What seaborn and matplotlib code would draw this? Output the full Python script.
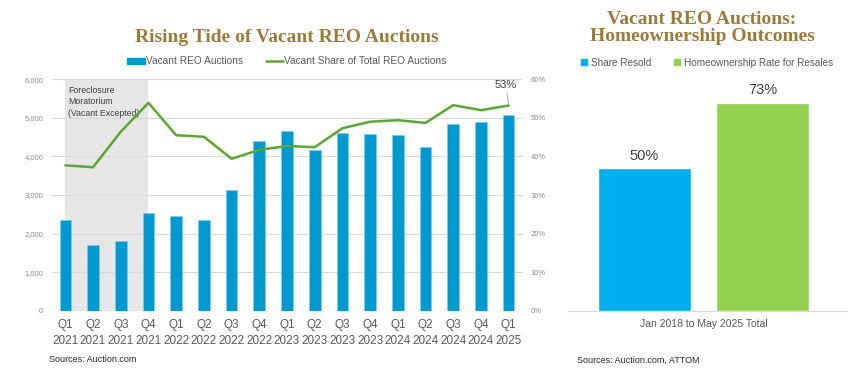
import numpy as np
import pandas as pd
import matplotlib
matplotlib.use("Agg")
import matplotlib.pyplot as plt
from matplotlib.patches import Patch
from matplotlib.lines import Line2D
import seaborn as sns

quarters = ["Q1\n2021", "Q2\n2021", "Q3\n2021", "Q4\n2021",
            "Q1\n2022", "Q2\n2022", "Q3\n2022", "Q4\n2022",
            "Q1\n2023", "Q2\n2023", "Q3\n2023", "Q4\n2023",
            "Q1\n2024", "Q2\n2024", "Q3\n2024", "Q4\n2024", "Q1\n2025"]
vacant_auctions = [2350, 1700, 1820, 2530, 2460, 2360, 3130, 4390,
                   4660, 4160, 4610, 4580, 4565, 4245, 4840, 4885, 5065]
vacant_share = [37.7, 37.2, 46.4, 53.9, 45.5, 45.1, 39.4, 41.7,
                42.7, 42.4, 47.3, 49.0, 49.4, 48.7, 53.3, 52.0, 53.2]
left_yticks = [0, 1000, 2000, 3000, 4000, 5000, 6000]
right_yticks = [0, 10, 20, 30, 40, 50, 60]

outcome_period = ["Jan 2018 to May 2025 Total"] * 2
outcome_metric = ["Share Resold", "Homeownership Rate for Resales"]
outcome_value = [50, 73]

BLUE = "#0099d0"
LINE_GREEN = "#5aa832"
SKY = "#00aeef"
LIME = "#92d050"
GOLD = "#9c7a3c"
GRID = "#d9d9d9"
TXT = "#595959"

sns.set_theme(style="white")
plt.rcParams["font.family"] = ["Liberation Sans", "DejaVu Sans"]

fig = plt.figure(figsize=(8.48, 3.82), dpi=100)

# ---- left chart: bars + share line
ax1 = fig.add_axes([51.5 / 848, 1 - 310.7 / 382, 471 / 848, 231.4 / 382])
df = pd.DataFrame({"quarter": quarters, "auctions": vacant_auctions,
                   "share": vacant_share, "pos": np.arange(len(quarters))})

ax1.axvspan(0, 3, color="#e6e6e6", zorder=0, lw=0)
sns.barplot(data=df, x="quarter", y="auctions", color=BLUE, width=0.42,
            saturation=1, edgecolor="#7fcbe8", linewidth=0.5, ax=ax1, zorder=2)
ax1.set_xlim(-0.5, 16.5)
ax1.set_ylim(0, 6000)
ax1.set_yticks(left_yticks)
ax1.set_yticklabels([f"{v:,}" for v in left_yticks])
ax1.yaxis.grid(True, color=GRID, lw=0.8)
ax1.set_axisbelow(True)
ax1.tick_params(axis="y", labelsize=5.5, labelcolor="#8c8c8c", length=0, pad=6)
ax1.tick_params(axis="x", labelsize=8.5, labelcolor=TXT, length=0, pad=6)
for lab in ax1.get_xticklabels():
    lab.set_linespacing(1.4)
ax1.set_xlabel("")
ax1.set_ylabel("")
for s in ax1.spines.values():
    s.set_visible(False)

ax1.text(0.1, 5830, "Foreclosure\nMoratorium\n(Vacant Excepted)", fontsize=6.3,
         color="#404040", va="top", ha="left", linespacing=1.35, zorder=3)

ax2 = ax1.twinx()
sns.lineplot(data=df, x="pos", y="share", color=LINE_GREEN, lw=1.8, ax=ax2, zorder=4)
ax2.set_ylim(0, 60)
ax2.set_yticks(right_yticks)
ax2.set_yticklabels([f"{v}%" for v in right_yticks])
ax2.tick_params(axis="y", labelsize=5.5, labelcolor="#8c8c8c", length=0, pad=6)
ax2.set_xlabel("")
ax2.set_ylabel("")
ax2.grid(False)
for s in ax2.spines.values():
    s.set_visible(False)
last = len(quarters) - 1
ax2.annotate(f"{vacant_share[last]:.0f}%", xy=(last, vacant_share[last]),
             xytext=(-2, 11), textcoords="offset points", ha="center", va="bottom",
             fontsize=8, color="#404040",
             arrowprops=dict(arrowstyle="-", color="#808080", lw=0.5, shrinkA=0, shrinkB=1))

fig.text(287 / 848, 1 - 37 / 382, "Rising Tide of Vacant REO Auctions",
         family="Liberation Serif", fontweight="bold", fontsize=14, color=GOLD,
         ha="center", va="center")
fig.legend(handles=[Patch(color=BLUE, label="Vacant REO Auctions"),
                    Line2D([0], [0], color=LINE_GREEN, lw=1.8,
                           label="Vacant Share of Total REO Auctions")],
           loc="center", bbox_to_anchor=(287 / 848, 1 - 61.5 / 382), ncol=2,
           frameon=False, fontsize=7.3, labelcolor=TXT, handlelength=1.7,
           handleheight=0.6, handletextpad=0.1, columnspacing=2.3)
fig.text(49 / 848, 1 - 360 / 382, "Sources: Auction.com", fontsize=6.5,
         color="#262626", ha="left", va="center")

# ---- right chart: homeownership outcomes
ax3 = fig.add_axes([568 / 848, 1 - 310.7 / 382, 280 / 848, 230.7 / 382])
out = pd.DataFrame({"period": outcome_period, "metric": outcome_metric,
                    "value": outcome_value})
sns.barplot(data=out, x="period", y="value", hue="metric",
            palette=[SKY, LIME], saturation=1, gap=0.215, legend=False, ax=ax3)
for c in ax3.containers:
    ax3.bar_label(c, fmt="%.0f%%", fontsize=10.5, color="#404040", padding=4)
ax3.set_xlim(-0.458, 0.488)
ax3.set_ylim(0, 81)
ax3.set_yticks([])
ax3.set_xlabel("")
ax3.set_ylabel("")
ax3.tick_params(axis="x", labelsize=7.5, labelcolor=TXT, length=0, pad=6)
for k, s in ax3.spines.items():
    s.set_visible(k == "bottom")
ax3.spines["bottom"].set_color(GRID)
ax3.spines["bottom"].set_linewidth(0.8)

fig.text(702 / 848, 1 - 28 / 382, "Vacant REO Auctions:\nHomeownership Outcomes",
         family="Liberation Serif", fontweight="bold", fontsize=14, color=GOLD,
         ha="center", va="center", linespacing=1.05)
fig.legend(handles=[Patch(color=SKY, label=outcome_metric[0]),
                    Patch(color=LIME, label=outcome_metric[1])],
           loc="center", bbox_to_anchor=(707 / 848, 1 - 62.5 / 382), ncol=2,
           frameon=False, fontsize=7.2, labelcolor=TXT, handlelength=0.6,
           handleheight=0.6, handletextpad=0.4, columnspacing=2.2)
fig.text(577 / 848, 1 - 360 / 382, "Sources: Auction.com, ATTOM", fontsize=6.5,
         color="#262626", ha="left", va="center")

fig.savefig("out.png", dpi=100, facecolor="white")
